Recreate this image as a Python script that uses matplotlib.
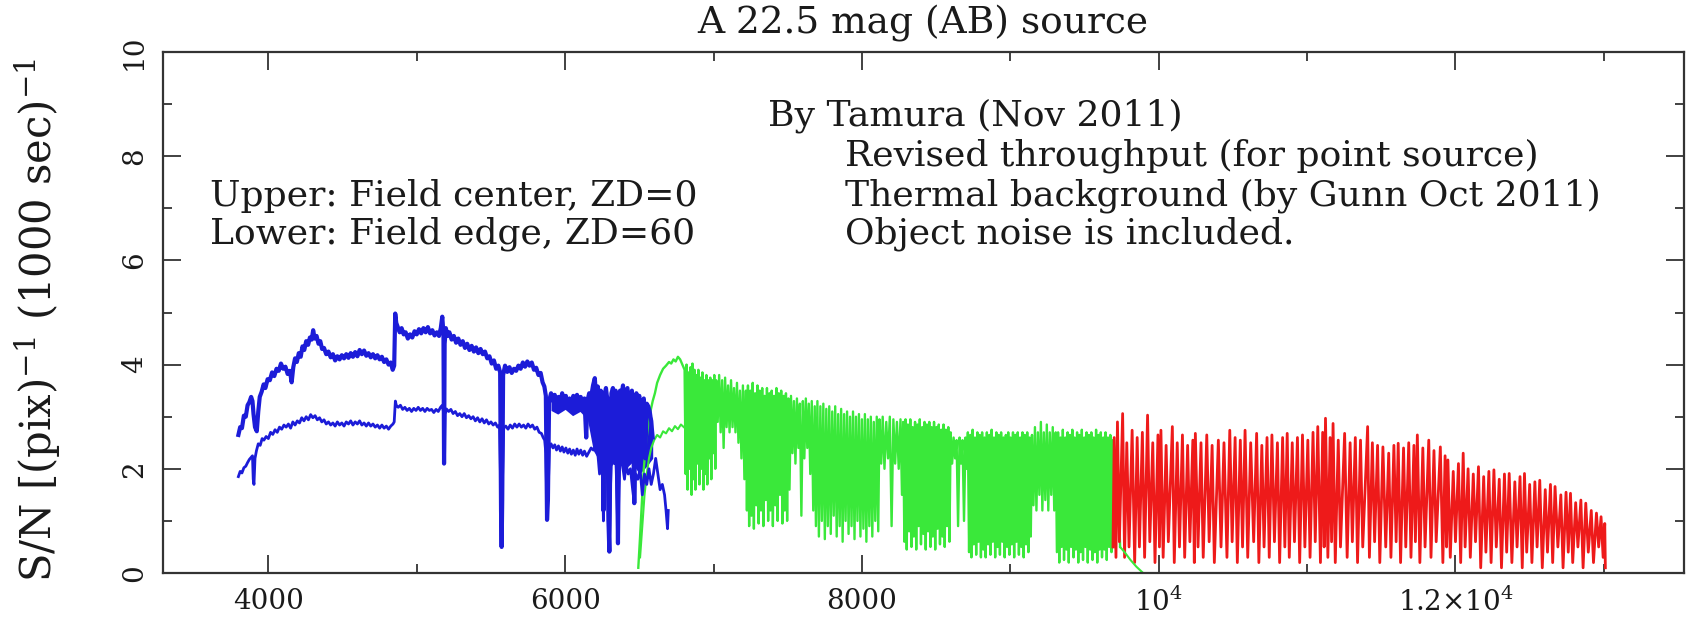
import matplotlib
matplotlib.use("Agg")
import matplotlib.pyplot as plt
from matplotlib.ticker import MultipleLocator

# ---- axis ticks ----
x_ticks = [4000, 6000, 8000, 10000, 12000]
x_tick_labels = ["4000", "6000", "8000", r"$10^4$", r"$1.2{\times}10^4$"]
y_ticks = [0, 2, 4, 6, 8, 10]
y_tick_labels = ["0", "2", "4", "6", "8", "10"]

# ---- blue arm, field center (upper curve) ----
blue_up_wave = [
    3798, 3810, 3822, 3835, 3848, 3860, 3872, 3884, 3893, 3900,
    3910, 3922, 3932, 3942, 3955, 3968, 3980, 3995, 4010, 4025,
    4040, 4055, 4070, 4085, 4100, 4115, 4130, 4145, 4157, 4168,
    4180, 4192, 4205, 4218, 4230, 4242, 4255, 4268, 4280, 4292,
    4302, 4312, 4325, 4338, 4350, 4362, 4375, 4390, 4405, 4420,
    4435, 4450, 4465, 4480, 4495, 4510, 4525, 4540, 4555, 4570,
    4585, 4600, 4615, 4630, 4645, 4660, 4675, 4690, 4705, 4720,
    4735, 4750, 4765, 4780, 4795, 4810, 4825, 4838, 4848, 4855,
    4862, 4872, 4885, 4898, 4912, 4925, 4940, 4955, 4970, 4985,
    5000, 5015, 5030, 5045, 5060, 5075, 5090, 5105, 5120, 5135,
    5150, 5162, 5172, 5180, 5184, 5188, 5196, 5208, 5220, 5235,
    5250, 5265, 5280, 5295, 5310, 5325, 5340, 5355, 5370, 5385,
    5400, 5415, 5430, 5445, 5460, 5475, 5490, 5505, 5520, 5535,
    5550, 5562, 5568, 5572, 5576, 5582, 5595, 5610, 5625, 5640,
    5655, 5670, 5685, 5700, 5715, 5730, 5745, 5760, 5775, 5790,
    5805, 5820, 5835, 5848, 5860, 5870, 5878, 5884, 5892, 5905,
    5918, 5930, 5942, 5955, 5968, 5980, 5992, 6005, 6018, 6030,
    6042, 6055, 6068, 6080, 6092, 6105, 6118, 6130, 6142, 6150,
    6162, 6175, 6188, 6200, 6210, 6220, 6232, 6240, 6250, 6258,
    6265, 6275, 6285, 6292, 6298, 6304, 6312, 6322, 6332, 6340,
    6350, 6356, 6362, 6370, 6380, 6390, 6400, 6410, 6420, 6430,
    6440, 6450, 6460, 6466, 6472, 6480, 6490, 6500, 6510, 6520,
    6530, 6540, 6550, 6560, 6570, 6580, 6590,
]
blue_up_sn = [
    2.65, 2.80, 2.78, 3.02, 3.00, 3.22, 3.28, 3.38, 3.30, 3.05,
    2.80, 2.72, 3.10, 3.38, 3.48, 3.62, 3.55, 3.72, 3.70, 3.85,
    3.78, 3.92, 3.88, 4.02, 3.92, 3.96, 3.82, 3.88, 3.66, 3.95,
    4.12, 4.05, 4.22, 4.15, 4.35, 4.28, 4.45, 4.38, 4.52, 4.48,
    4.66, 4.50, 4.55, 4.40, 4.45, 4.30, 4.32, 4.20, 4.25, 4.14,
    4.20, 4.08, 4.16, 4.10, 4.18, 4.12, 4.20, 4.13, 4.22, 4.15,
    4.24, 4.16, 4.28, 4.20, 4.27, 4.17, 4.22, 4.14, 4.20, 4.12,
    4.18, 4.10, 4.15, 4.05, 4.10, 4.00, 4.04, 3.90, 3.98, 4.98,
    4.80, 4.72, 4.62, 4.70, 4.58, 4.62, 4.50, 4.58, 4.52, 4.64,
    4.58, 4.68, 4.60, 4.70, 4.62, 4.72, 4.60, 4.66, 4.56, 4.62,
    4.55, 4.70, 4.92, 4.60, 2.10, 4.40, 4.70, 4.55, 4.62, 4.48,
    4.55, 4.42, 4.50, 4.38, 4.45, 4.32, 4.40, 4.28, 4.36, 4.25,
    4.33, 4.22, 4.30, 4.20, 4.25, 4.12, 4.16, 4.02, 4.08, 3.92,
    3.98, 3.85, 1.20, 0.50, 1.40, 3.80, 3.98, 3.86, 3.95, 3.84,
    3.92, 3.88, 3.98, 3.92, 4.04, 3.96, 4.06, 3.98, 4.04, 3.90,
    3.94, 3.80, 3.84, 3.66, 3.58, 3.40, 1.02, 1.40, 3.30, 3.45,
    3.30, 3.42, 3.22, 3.38, 3.28, 3.45, 3.30, 3.40, 3.18, 3.35,
    3.22, 3.40, 3.30, 3.42, 3.25, 3.38, 3.20, 3.35, 2.60, 3.30,
    3.45, 3.38, 3.60, 3.74, 3.30, 3.58, 2.40, 3.50, 3.45, 1.20,
    3.40, 3.55, 3.30, 1.00, 0.41, 2.20, 3.45, 3.55, 3.20, 3.50,
    2.00, 0.57, 2.40, 3.50, 3.40, 3.60, 2.60, 3.50, 3.55, 2.80,
    3.40, 3.50, 2.50, 1.34, 3.00, 3.45, 3.30, 3.40, 2.40, 3.30,
    3.35, 2.20, 3.25, 3.20, 3.10, 2.90, 2.60,
]

# ---- blue arm, field edge (lower curve) ----
blue_low_wave = [
    3798, 3810, 3822, 3835, 3848, 3860, 3872, 3884, 3893, 3898,
    3903, 3910, 3920, 3932, 3945, 3958, 3970, 3985, 4000, 4015,
    4030, 4045, 4060, 4075, 4090, 4105, 4120, 4135, 4150, 4165,
    4180, 4195, 4210, 4225, 4240, 4255, 4270, 4285, 4300, 4315,
    4330, 4345, 4360, 4375, 4390, 4405, 4420, 4435, 4450, 4465,
    4480, 4495, 4510, 4525, 4540, 4555, 4570, 4585, 4600, 4615,
    4630, 4645, 4660, 4675, 4690, 4705, 4720, 4735, 4750, 4765,
    4780, 4795, 4810, 4825, 4840, 4848, 4856, 4862, 4875, 4890,
    4905, 4920, 4935, 4950, 4965, 4980, 4995, 5010, 5025, 5040,
    5055, 5070, 5085, 5100, 5115, 5130, 5145, 5160, 5172, 5180,
    5184, 5188, 5192, 5200, 5215, 5230, 5245, 5260, 5275, 5290,
    5305, 5320, 5335, 5350, 5365, 5380, 5395, 5410, 5425, 5440,
    5455, 5470, 5485, 5500, 5515, 5530, 5545, 5558, 5566, 5572,
    5578, 5586, 5600, 5615, 5630, 5645, 5660, 5675, 5690, 5705,
    5720, 5735, 5750, 5765, 5780, 5795, 5810, 5825, 5840, 5852,
    5862, 5870, 5878, 5886, 5894, 5905, 5918, 5930, 5942, 5955,
    5968, 5980, 5992, 6005, 6018, 6030, 6042, 6055, 6068, 6080,
    6092, 6105, 6118, 6130, 6145, 6160, 6175, 6190, 6205, 6220,
    6232, 6240, 6250, 6258, 6265, 6275, 6285, 6292, 6298, 6304,
    6312, 6322, 6332, 6342, 6350, 6356, 6362, 6370, 6385, 6400,
    6410, 6425, 6440, 6455, 6466, 6475, 6490, 6505, 6520, 6535,
    6550, 6565, 6580, 6595, 6610, 6625, 6640, 6655, 6670, 6680,
    6690, 6695,
]
blue_low_sn = [
    1.85, 1.95, 1.92, 2.02, 2.05, 2.12, 2.18, 2.22, 2.25, 1.80,
    1.70, 2.20, 2.35, 2.48, 2.45, 2.58, 2.55, 2.62, 2.58, 2.70,
    2.66, 2.75, 2.70, 2.80, 2.76, 2.84, 2.80, 2.86, 2.78, 2.90,
    2.84, 2.92, 2.88, 2.98, 2.92, 3.00, 2.94, 3.04, 2.98, 3.02,
    2.94, 2.98, 2.90, 2.94, 2.86, 2.90, 2.84, 2.88, 2.82, 2.90,
    2.84, 2.88, 2.82, 2.90, 2.86, 2.92, 2.84, 2.90, 2.86, 2.92,
    2.84, 2.88, 2.82, 2.88, 2.82, 2.86, 2.80, 2.84, 2.78, 2.84,
    2.78, 2.82, 2.76, 2.82, 2.86, 2.90, 3.30, 3.22, 3.18, 3.22,
    3.14, 3.18, 3.12, 3.16, 3.10, 3.16, 3.12, 3.18, 3.12, 3.16,
    3.10, 3.16, 3.12, 3.14, 3.08, 3.14, 3.10, 3.18, 3.22, 3.10,
    2.10, 2.30, 3.05, 3.15, 3.10, 3.14, 3.06, 3.10, 3.02, 3.06,
    3.00, 3.06, 2.98, 3.02, 2.96, 3.00, 2.92, 2.98, 2.90, 2.96,
    2.88, 2.94, 2.86, 2.90, 2.84, 2.88, 2.80, 2.84, 1.60, 0.55,
    1.80, 2.78, 2.82, 2.76, 2.84, 2.78, 2.86, 2.80, 2.86, 2.80,
    2.84, 2.78, 2.86, 2.80, 2.84, 2.76, 2.80, 2.70, 2.68, 2.60,
    2.55, 2.30, 1.10, 1.60, 2.40, 2.48, 2.40, 2.46, 2.36, 2.44,
    2.34, 2.42, 2.32, 2.40, 2.30, 2.38, 2.28, 2.36, 2.26, 2.38,
    2.28, 2.36, 2.26, 2.34, 2.24, 2.32, 2.40, 2.36, 2.44, 2.30,
    1.90, 2.30, 2.20, 1.00, 2.20, 2.28, 2.10, 0.80, 0.44, 1.50,
    2.20, 2.30, 2.10, 2.20, 1.40, 0.60, 1.60, 2.20, 2.10, 1.80,
    2.10, 1.90, 2.00, 1.60, 1.34, 1.90, 1.80, 2.00, 1.50, 1.90,
    1.70, 2.00, 1.70, 1.90, 2.20, 1.90, 1.60, 1.70, 1.50, 1.20,
    0.85, 1.20,
]

# dense part of the blue arm (both curves blended together)
blue_blob_wave = [5905, 5950, 6000, 6050, 6100, 6150, 6190, 6230, 6270,
                  6310, 6350, 6400, 6450, 6500, 6550, 6590]
blue_blob_lo = [3.12, 3.05, 3.14, 3.02, 3.10, 2.95, 2.35, 2.15, 2.30,
                2.05, 2.20, 1.98, 2.12, 1.90, 2.05, 2.20]
blue_blob_hi = [3.38, 3.32, 3.40, 3.28, 3.36, 3.30, 3.50, 3.40, 3.46,
                3.36, 3.45, 3.40, 3.36, 3.30, 3.20, 2.95]

# ---- red arm (both curves overlap, drawn as one trace) ----
green_wave = [
    6493, 6505, 6518, 6530, 6545, 6560, 6575, 6590, 6605, 6620,
    6640, 6660, 6680, 6700, 6715, 6730, 6745, 6760, 6775, 6790,
    6805, 6812, 6818, 6825, 6832, 6838, 6845, 6852, 6858, 6865,
    6872, 6878, 6885, 6892, 6898, 6905, 6912, 6918, 6925, 6932,
    6938, 6945, 6952, 6958, 6965, 6972, 6978, 6985, 6992, 6998,
    7005, 7012, 7018, 7028, 7038, 7048, 7058, 7068, 7078, 7088,
    7098, 7108, 7118, 7128, 7138, 7148, 7158, 7168, 7178, 7188,
    7198, 7208, 7218, 7225, 7232, 7240, 7248, 7256, 7264, 7272,
    7280, 7288, 7296, 7304, 7312, 7320, 7328, 7336, 7344, 7352,
    7360, 7368, 7376, 7384, 7392, 7400, 7408, 7416, 7424, 7432,
    7440, 7448, 7456, 7464, 7472, 7480, 7488, 7496, 7504, 7512,
    7522, 7532, 7542, 7552, 7562, 7572, 7582, 7592, 7602, 7612,
    7622, 7632, 7642, 7652, 7662, 7672, 7682, 7690, 7700, 7710,
    7720, 7730, 7740, 7750, 7760, 7770, 7780, 7790, 7800, 7810,
    7820, 7830, 7840, 7850, 7860, 7870, 7880, 7890, 7900, 7910,
    7920, 7930, 7940, 7950, 7960, 7970, 7980, 7990, 8000, 8010,
    8020, 8030, 8040, 8050, 8060, 8070, 8080, 8090, 8100, 8110,
    8118, 8130, 8140, 8152, 8164, 8176, 8188, 8200, 8212, 8224,
    8236, 8248, 8260, 8270, 8278, 8286, 8294, 8302, 8310, 8318,
    8326, 8334, 8342, 8350, 8358, 8366, 8374, 8382, 8390, 8398,
    8406, 8414, 8422, 8430, 8438, 8446, 8454, 8462, 8470, 8478,
    8486, 8494, 8502, 8510, 8518, 8526, 8534, 8542, 8550, 8558,
    8566, 8574, 8582, 8590, 8598, 8608, 8618, 8628, 8638, 8648,
    8658, 8668, 8678, 8688, 8698, 8706, 8714, 8722, 8730, 8738,
    8746, 8754, 8762, 8770, 8778, 8786, 8794, 8802, 8810, 8818,
    8826, 8834, 8842, 8850, 8858, 8866, 8874, 8882, 8890, 8898,
    8906, 8914, 8922, 8930, 8938, 8946, 8954, 8962, 8970, 8978,
    8986, 8994, 9002, 9010, 9018, 9026, 9034, 9042, 9050, 9058,
    9066, 9074, 9082, 9090, 9098, 9106, 9114, 9122, 9130, 9138,
    9146, 9156, 9166, 9176, 9186, 9196, 9206, 9216, 9226, 9236,
    9246, 9256, 9266, 9276, 9286, 9296, 9306, 9314, 9322, 9330,
    9338, 9346, 9354, 9362, 9370, 9378, 9386, 9394, 9402, 9410,
    9418, 9426, 9434, 9442, 9450, 9458, 9466, 9474, 9482, 9490,
    9498, 9506, 9514, 9522, 9530, 9538, 9546, 9554, 9562, 9570,
    9578, 9586, 9594, 9602, 9610, 9618, 9626, 9634, 9642, 9650,
    9658, 9666, 9674, 9682, 9690, 9700, 9720, 9740,
]
green_sn = [
    0.10, 0.70, 1.40, 2.00, 2.50, 2.85, 3.10, 3.30, 3.45, 3.65,
    3.80, 3.92, 3.98, 4.05, 4.02, 4.10, 4.06, 4.15, 4.10, 4.00,
    3.90, 1.90, 4.00, 1.60, 3.85, 2.00, 3.95, 1.50, 4.02, 1.80,
    3.90, 1.60, 3.80, 2.10, 3.90, 1.70, 3.75, 2.00, 3.85, 1.60,
    3.70, 1.90, 3.80, 1.70, 3.70, 2.20, 3.75, 1.80, 3.70, 2.30,
    3.80, 2.00, 3.70, 2.90, 3.80, 2.70, 3.70, 2.40, 3.75, 2.80,
    3.60, 2.70, 3.70, 2.80, 3.55, 2.70, 3.65, 2.50, 3.50, 2.20,
    3.60, 1.80, 3.50, 1.20, 3.60, 0.90, 3.50, 1.10, 3.65, 0.85,
    3.45, 1.30, 3.60, 0.95, 3.50, 1.20, 3.55, 0.90, 3.40, 1.40,
    3.55, 1.00, 3.45, 1.20, 3.50, 0.90, 3.40, 1.30, 3.55, 1.00,
    3.45, 1.50, 3.50, 0.95, 3.40, 1.20, 3.45, 1.00, 3.35, 1.60,
    3.40, 2.30, 3.30, 2.10, 3.35, 2.40, 3.25, 1.10, 3.30, 2.20,
    3.35, 2.40, 3.25, 1.90, 3.30, 1.20, 3.20, 0.90, 3.30, 0.70,
    3.20, 1.00, 3.25, 0.65, 3.15, 0.90, 3.20, 0.75, 3.10, 1.10,
    3.20, 0.70, 3.05, 0.90, 3.15, 0.60, 3.05, 1.00, 3.10, 0.75,
    3.00, 0.90, 3.10, 0.65, 3.00, 1.00, 3.05, 0.70, 2.95, 0.85,
    3.05, 0.60, 2.95, 0.90, 3.00, 0.70, 2.90, 1.00, 3.00, 0.80,
    2.95, 2.10, 3.00, 2.00, 2.90, 2.20, 3.00, 0.90, 2.95, 2.10,
    2.90, 2.00, 2.95, 1.50, 2.90, 0.60, 2.95, 0.45, 2.85, 0.80,
    2.95, 0.50, 2.80, 0.70, 2.90, 0.45, 2.85, 0.90, 2.95, 0.55,
    2.80, 0.75, 2.90, 0.45, 2.85, 0.80, 2.90, 0.50, 2.80, 0.70,
    2.90, 0.45, 2.80, 0.85, 2.85, 0.55, 2.75, 0.70, 2.85, 0.50,
    2.75, 0.90, 2.80, 0.60, 2.70, 2.10, 2.60, 2.20, 2.55, 0.90,
    2.60, 2.10, 2.55, 1.00, 2.60, 2.00, 2.70, 0.40, 2.65, 0.30,
    2.75, 0.55, 2.60, 0.35, 2.70, 0.60, 2.65, 0.30, 2.70, 0.45,
    2.60, 0.30, 2.70, 0.55, 2.65, 0.35, 2.75, 0.60, 2.60, 0.30,
    2.70, 0.50, 2.65, 0.35, 2.70, 0.60, 2.60, 0.30, 2.65, 0.50,
    2.70, 0.35, 2.60, 0.55, 2.70, 0.30, 2.65, 0.60, 2.70, 0.35,
    2.60, 0.50, 2.70, 0.30, 2.65, 0.55, 2.70, 0.40, 2.60, 0.70,
    2.65, 1.30, 2.80, 1.20, 2.70, 1.50, 2.90, 1.20, 2.70, 1.40,
    2.85, 1.20, 2.70, 1.50, 2.80, 1.20, 2.70, 0.40, 2.70, 0.20,
    2.60, 0.50, 2.75, 0.25, 2.60, 0.45, 2.70, 0.20, 2.65, 0.50,
    2.75, 0.30, 2.60, 0.45, 2.70, 0.20, 2.65, 0.40, 2.75, 0.25,
    2.60, 0.50, 2.70, 0.20, 2.65, 0.45, 2.70, 0.25, 2.60, 0.40,
    2.75, 0.20, 2.65, 0.45, 2.70, 0.30, 2.60, 0.45, 2.70, 0.25,
    2.60, 0.50, 2.65, 0.40, 2.55, 0.60, 2.30, 0.50,
]

# field-edge curve where it separates from the upper one
green_low_wave = [6505, 6520, 6535, 6550, 6565, 6580, 6600, 6620, 6640,
                  6660, 6680, 6700, 6720, 6740, 6760, 6780, 6800]
green_low_sn = [0.30, 0.90, 1.50, 1.90, 2.20, 2.40, 2.55, 2.65, 2.60,
                2.72, 2.68, 2.78, 2.72, 2.82, 2.76, 2.85, 2.80]
green_tail_wave = [9740, 9770, 9810, 9850, 9895]
green_tail_sn = [0.50, 0.40, 0.25, 0.12, 0.00]

# ---- NIR arm ----
red_wave = [
    9692, 9700, 9712, 9722, 9735, 9757, 9770, 9785, 9800, 9821,
    9838, 9855, 9870, 9890, 9905, 9925, 9940, 9960, 9975, 9995,
    10005, 10015, 10030, 10050, 10065, 10092, 10105, 10125, 10140, 10160,
    10175, 10195, 10210, 10230, 10240, 10247, 10265, 10285, 10300, 10324,
    10340, 10360, 10375, 10402, 10420, 10440, 10460, 10479, 10495, 10515,
    10530, 10550, 10565, 10582, 10600, 10620, 10640, 10660, 10675, 10695,
    10710, 10730, 10745, 10763, 10780, 10800, 10815, 10835, 10850, 10866,
    10880, 10900, 10915, 10935, 10950, 10969, 10985, 11005, 11020, 11040,
    11055, 11072, 11090, 11105, 11115, 11124, 11140, 11155, 11165, 11175,
    11190, 11210, 11225, 11253, 11270, 11290, 11305, 11325, 11340, 11360,
    11375, 11408, 11420, 11440, 11455, 11475, 11490, 11511, 11530, 11550,
    11565, 11585, 11600, 11614, 11630, 11650, 11665, 11685, 11700, 11720,
    11730, 11743, 11760, 11780, 11795, 11820, 11835, 11855, 11870, 11898,
    11915, 11930, 11940, 11949, 11965, 11985, 12000, 12020, 12035, 12052,
    12065, 12085, 12100, 12120, 12135, 12155, 12170, 12190, 12205, 12225,
    12240, 12259, 12275, 12295, 12310, 12330, 12345, 12362, 12380, 12400,
    12415, 12435, 12450, 12465, 12480, 12500, 12515, 12535, 12550, 12568,
    12585, 12605, 12620, 12640, 12655, 12671, 12690, 12710, 12725, 12745,
    12760, 12775, 12790, 12810, 12825, 12845, 12860, 12878, 12895, 12915,
    12930, 12950, 12965, 12981, 12995, 13006, 13010,
]
red_sn = [
    0.50, 2.60, 0.30, 2.90, 0.60, 3.06, 0.30, 2.50, 0.50, 2.74,
    0.20, 2.60, 0.50, 2.70, 0.30, 3.03, 0.60, 2.50, 0.20, 2.65,
    0.50, 2.74, 0.30, 2.45, 0.60, 2.81, 0.20, 2.50, 0.50, 2.65,
    0.30, 2.45, 0.60, 2.55, 0.20, 2.68, 0.50, 2.50, 0.30, 2.65,
    0.60, 2.45, 0.20, 2.55, 0.50, 2.50, 0.30, 2.74, 0.60, 2.60,
    0.20, 2.55, 0.50, 2.74, 0.30, 2.50, 0.60, 2.68, 0.20, 2.45,
    0.50, 2.60, 0.30, 2.65, 0.60, 2.50, 0.20, 2.60, 0.50, 2.68,
    0.30, 2.50, 0.60, 2.60, 0.20, 2.65, 0.50, 2.55, 0.30, 2.70,
    0.60, 2.81, 0.20, 2.70, 0.50, 2.97, 0.30, 2.60, 0.60, 2.87,
    0.20, 2.55, 0.50, 2.68, 0.30, 2.50, 0.60, 2.60, 0.20, 2.55,
    0.50, 2.81, 0.30, 2.50, 0.60, 2.45, 0.20, 2.42, 0.50, 2.30,
    0.30, 2.45, 0.60, 2.49, 0.20, 2.40, 0.50, 2.50, 0.30, 2.45,
    0.60, 2.65, 0.20, 2.40, 0.50, 2.55, 0.30, 2.35, 0.60, 2.42,
    0.20, 2.25, 0.50, 2.17, 0.30, 1.95, 0.60, 2.10, 0.20, 2.30,
    0.50, 2.00, 0.30, 1.90, 0.60, 2.04, 0.10, 1.85, 0.40, 1.95,
    0.20, 1.98, 0.50, 1.80, 0.10, 1.90, 0.40, 1.91, 0.20, 1.75,
    0.50, 1.85, 0.10, 1.91, 0.40, 1.70, 0.20, 1.75, 0.50, 1.78,
    0.10, 1.60, 0.40, 1.70, 0.20, 1.66, 0.50, 1.50, 0.10, 1.55,
    0.40, 1.53, 0.20, 1.35, 0.50, 1.40, 0.10, 1.34, 0.40, 1.20,
    0.20, 1.15, 0.50, 1.08, 0.30, 0.95, 0.10,
]

BLUE = "#1c1cd8"
GREEN = "#3ae83a"
RED = "#ee1a1a"
INK = "#1a1a1a"

W, H = 1689, 627


def px(x, y):
    # pixel position in the 1689x627 picture -> figure fraction
    return x / W, 1 - y / H


plt.rcParams["font.family"] = "DejaVu Serif"
plt.rcParams["mathtext.fontset"] = "dejavuserif"

fig = plt.figure(figsize=(W / 100, H / 100), dpi=100)
ax = fig.add_axes([163 / W, 1 - 573 / H, 1521 / W, 521 / H])

# spectra
ax.plot(green_wave, green_sn, color=GREEN, lw=1.7)
ax.plot(green_low_wave, green_low_sn, color=GREEN, lw=1.5)
ax.fill_between(blue_blob_wave, blue_blob_lo, blue_blob_hi, color=BLUE, lw=0)
ax.plot(blue_low_wave, blue_low_sn, color=BLUE, lw=2.0)
ax.plot(blue_up_wave, blue_up_sn, color=BLUE, lw=3.0)
ax.plot(red_wave, red_sn, color=RED, lw=2.0)
ax.plot(green_tail_wave, green_tail_sn, color=GREEN, lw=1.5)

ax.set_xlim(3290, 13540)
ax.set_ylim(0, 10)

ax.set_xticks(x_ticks)
ax.set_xticklabels(x_tick_labels)
ax.set_yticks(y_ticks)
ax.set_yticklabels(y_tick_labels, rotation=90, va="center")
ax.xaxis.set_minor_locator(MultipleLocator(1000))
ax.yaxis.set_minor_locator(MultipleLocator(1))

ax.tick_params(which="both", direction="in", top=True, right=True,
               width=1.3, color="#333333", labelcolor=INK, labelsize=20)
ax.tick_params(which="major", length=13)
ax.tick_params(which="minor", length=6.5)
ax.tick_params(axis="x", pad=11)
ax.tick_params(axis="y", pad=11)
for s in ax.spines.values():
    s.set_linewidth(1.6)
    s.set_color("#333333")

# labels and notes
fig.text(*px(923, 24), "A 22.5 mag (AB) source", ha="center", va="center",
         fontsize=27, color=INK)
fig.text(*px(38, 582), "S/N [(pix)$^{-1}$ (1000 sec)$^{-1}$", rotation=90,
         ha="center", va="bottom", fontsize=30, color=INK)

fig.text(*px(768, 116), "By Tamura (Nov 2011)", va="center", fontsize=26, color=INK)
fig.text(*px(845, 156), "Revised throughput (for point source)", va="center",
         fontsize=26, color=INK)
fig.text(*px(845, 196), "Thermal background (by Gunn Oct 2011)", va="center",
         fontsize=26, color=INK)
fig.text(*px(845, 234), "Object noise is included.", va="center", fontsize=26, color=INK)
fig.text(*px(210, 196), "Upper: Field center, ZD=0", va="center", fontsize=26, color=INK)
fig.text(*px(210, 234), "Lower: Field edge, ZD=60", va="center", fontsize=26, color=INK)

fig.savefig("out.png", dpi=100)
